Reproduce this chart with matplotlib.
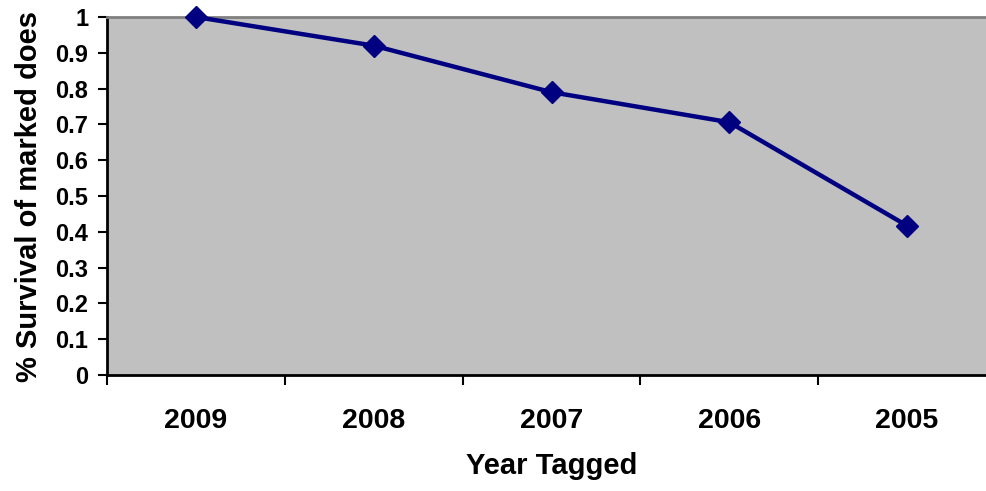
import numpy as np
import matplotlib.pyplot as plt

years = ['2009', '2008', '2007', '2006', '2005']
survival = [1.0, 0.92, 0.79, 0.706, 0.417]
y_ticks = [0, 0.1, 0.2, 0.3, 0.4, 0.5, 0.6, 0.7, 0.8, 0.9, 1]
y_tick_labels = ['0', '0.1', '0.2', '0.3', '0.4', '0.5', '0.6', '0.7', '0.8', '0.9', '1']

plt.rcParams['font.family'] = ['Liberation Sans', 'DejaVu Sans']
plt.rcParams['font.weight'] = 'bold'

fig = plt.figure(figsize=(9.86, 4.91), dpi=100)
ax = fig.add_axes([107 / 986, 116 / 491, 889 / 986, 358 / 491])
ax.set_facecolor('#C0C0C0')

x = np.arange(1, len(years) + 1)
ax.plot(x, survival, color='#000080', linewidth=3.2, marker='D',
        markersize=11, markeredgecolor='#000080', clip_on=False, zorder=5)

ax.set_xlim(0.5, len(years) + 0.5)
ax.set_ylim(0, 1)

# category labels centred, tick marks between categories
ax.set_xticks(x)
ax.set_xticklabels(years, fontsize=20.5, fontweight='bold')
ax.set_xticks(np.arange(0.5, len(years) + 1, 1), minor=True)
ax.tick_params(axis='x', which='major', length=0, pad=24)
ax.tick_params(axis='x', which='minor', length=7, width=1.5, direction='out')

ax.set_yticks(y_ticks)
ax.set_yticklabels(y_tick_labels, fontsize=17, fontweight='bold')
ax.tick_params(axis='y', length=6.5, width=1.5, direction='out', pad=7)

for side in ['left', 'bottom']:
    ax.spines[side].set_color('black')
    ax.spines[side].set_linewidth(2)
for side in ['top', 'right']:
    ax.spines[side].set_color('#808080')
    ax.spines[side].set_linewidth(2)

ax.set_xlabel('Year Tagged', fontsize=21, fontweight='bold', labelpad=13)
ax.set_ylabel('% Survival of marked does', fontsize=21, fontweight='bold')
ax.yaxis.set_label_coords(-64 / 889, 0.5)

fig.savefig('out.png', dpi=100)
